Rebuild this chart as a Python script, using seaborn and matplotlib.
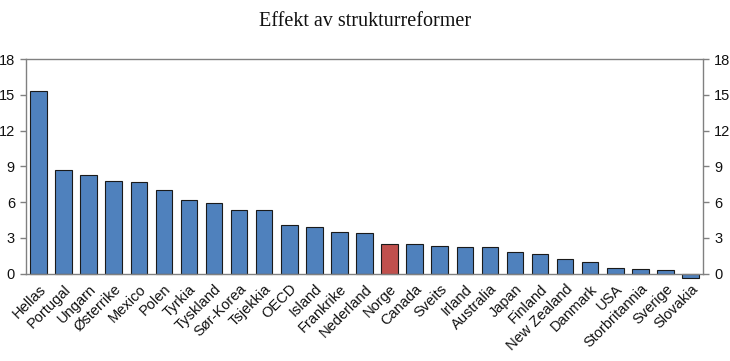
import matplotlib
matplotlib.use("Agg")
import matplotlib.pyplot as plt
import seaborn as sns
import pandas as pd
import numpy as np

countries = ["Hellas", "Portugal", "Ungarn", "Østerrike", "Mexico", "Polen", "Tyrkia",
             "Tyskland", "Sør-Korea", "Tsjekkia", "OECD", "Island", "Frankrike",
             "Nederland", "Norge", "Canada", "Sveits", "Irland", "Australia", "Japan",
             "Finland", "New Zealand", "Danmark", "USA", "Storbritannia", "Sverige",
             "Slovakia"]
values = [15.3, 8.7, 8.3, 7.8, 7.7, 7.0, 6.2, 5.9, 5.3, 5.3, 4.1, 3.9, 3.5, 3.4,
          2.5, 2.5, 2.3, 2.2, 2.2, 1.8, 1.6, 1.2, 1.0, 0.5, 0.4, 0.3, -0.4]
highlight = "Norge"
yticks = [0, 3, 6, 9, 12, 15, 18]

sns.set_theme(style="white")
plt.rcParams['font.family'] = ['Liberation Sans', 'DejaVu Sans']

df = pd.DataFrame({"land": countries, "verdi": values})
df["gruppe"] = np.where(df["land"] == highlight, "hl", "other")

fig = plt.figure(figsize=(7.30, 3.61), dpi=100)
left, right, bottom, top = 26 / 730, 703 / 730, (361 - 273.5) / 361, (361 - 59.3) / 361
ax = fig.add_axes([left, bottom, right - left, top - bottom])

sns.barplot(data=df, x="land", y="verdi", hue="gruppe",
            palette={"other": "#4F81BD", "hl": "#C0504D"}, saturation=1,
            dodge=False, legend=False, width=0.66,
            edgecolor="#1a1a1a", linewidth=0.8, ax=ax)
for p in ax.patches:
    p.set_clip_on(False)

ax.set_ylim(0, 18)
ax.set_xlim(-0.5, len(countries) - 0.5)
ax.set_yticks(yticks)
ax.set_xlabel("")
ax.set_ylabel("")

ax2 = ax.twinx()
ax2.set_ylim(0, 18)
ax2.set_yticks(yticks)

for a in (ax, ax2):
    for s in ["left", "right", "bottom", "top"]:
        a.spines[s].set_color("#808080")
        a.spines[s].set_linewidth(1.0)
    a.tick_params(axis="y", labelsize=10.5, colors="#808080", labelcolor="#111111",
                  length=4, width=1.0, direction="out", pad=4)
    a.grid(False)

ax.spines["right"].set_visible(False)
ax2.spines["left"].set_visible(False)
ax2.spines["bottom"].set_visible(False)
ax2.spines["top"].set_visible(False)

ax.set_xticks(range(len(countries)))
ax.set_xticklabels(countries, rotation=45, ha="right", rotation_mode="anchor",
                   fontsize=10.5, color="#111111")
ax.tick_params(axis="x", which="major", length=0, pad=6)
ax.set_xticks(np.arange(-0.5, len(countries) - 0.5 + 0.01, 1.0), minor=True)
ax.tick_params(axis="x", which="minor", length=4, width=1.0, colors="#808080",
               direction="out")

fig.text(0.5, 0.94, "Effekt av strukturreformer", ha="center", va="center",
         fontsize=14.5, family=["Liberation Serif", "DejaVu Serif"], color="#111111")

fig.savefig("out.png", dpi=100)
